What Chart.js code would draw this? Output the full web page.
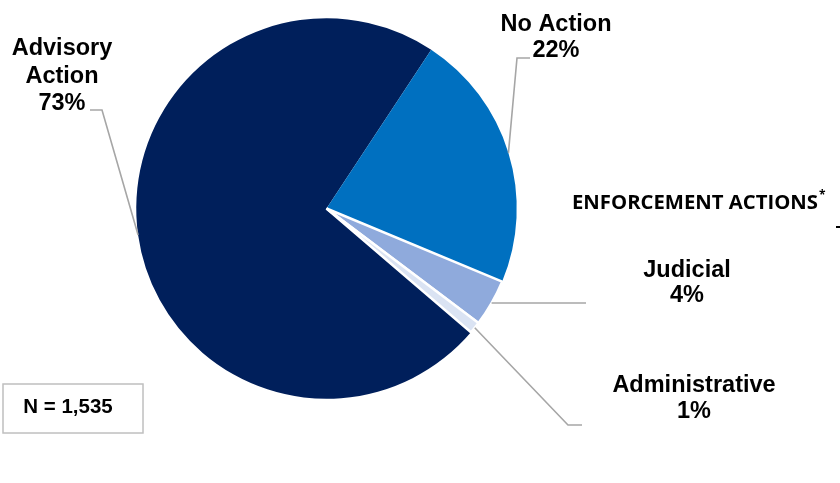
<!DOCTYPE html>
<html>
<head>
<meta charset="utf-8">
<script src="https://cdn.jsdelivr.net/npm/chart.js@4/dist/chart.umd.min.js"></script>
<style>
  html, body { margin: 0; padding: 0; background: #fff; }
  #wrap { width: 840px; height: 483px; }
</style>
</head>
<body>
<div id="wrap"><canvas id="chart_content" width="840" height="483"></canvas></div>
<script>
// data (percent of N = 1,535)
var categories = ["Advisory Action", "No Action", "Judicial", "Administrative"];
var shares = [73, 22, 4, 1];
var sliceColors = ["#001f5b", "#0070c0", "#8faadc", "#dae3f3"];
var totalLabel = "N = 1,535";
var groupTitle = "ENFORCEMENT ACTIONS";

// where each label sits: text lines, centre x, baselines, leader elbow and end
var labelSpots = [
	{ lines: ["Advisory", "Action", "73%"], x: 62, ys: [55, 83, 110], elbow: [102, 110], end: [90, 110] },
	{ lines: ["No Action", "22%"], x: 556, ys: [31, 57], elbow: [517, 58], end: [530, 58] },
	{ lines: ["Judicial", "4%"], x: 687, ys: [277, 302], elbow: null, end: [586, 0] },
	{ lines: ["Administrative", "1%"], x: 694, ys: [392, 418], elbow: [568, 425], end: [582, 425] }
];

var canvasElement = document.getElementById("chart_content");

var labelPlugin = {
	id: "sliceLabels",
	afterDraw: function(chart) {
		var ctx = chart.ctx;
		var arcs = chart.getDatasetMeta(0).data;
		ctx.save();

		// leader lines
		ctx.strokeStyle = "#a6a6a6";
		ctx.lineWidth = 1.6;
		arcs.forEach(function(arc, i) {
			var spot = labelSpots[i];
			var mid = (arc.startAngle + arc.endAngle) / 2;
			var ax = arc.x + Math.cos(mid) * arc.outerRadius;
			var ay = arc.y + Math.sin(mid) * arc.outerRadius;
			ctx.beginPath();
			ctx.moveTo(ax, ay);
			if (spot.elbow) {
				ctx.lineTo(spot.elbow[0], spot.elbow[1]);
				ctx.lineTo(spot.end[0], spot.end[1]);
			} else {
				ctx.lineTo(spot.end[0], ay);
			}
			ctx.stroke();
		});

		// slice labels
		ctx.fillStyle = "#000";
		ctx.textAlign = "center";
		ctx.textBaseline = "alphabetic";
		ctx.font = "bold 23.5px 'Liberation Sans', Arial, sans-serif";
		labelSpots.forEach(function(spot) {
			spot.lines.forEach(function(t, k) {
				ctx.fillText(t, spot.x, spot.ys[k]);
			});
		});

		// group heading, squeezed to the narrow look of the original
		ctx.textAlign = "left";
		ctx.font = "bold 19.5px 'Open Sans', sans-serif";
		var w = ctx.measureText(groupTitle).width;
		ctx.save();
		ctx.translate(572, 209);
		ctx.scale(246 / w, 1);
		ctx.fillText(groupTitle, 0, 0);
		ctx.restore();
		ctx.font = "bold 12px 'Open Sans', sans-serif";
		ctx.fillText("*", 819, 199);
		ctx.fillRect(836, 226, 4, 2);

		// N box
		ctx.strokeStyle = "#bfbfbf";
		ctx.lineWidth = 1.5;
		ctx.strokeRect(3, 384, 140, 49);
		ctx.fillStyle = "#000";
		ctx.textAlign = "center";
		ctx.font = "bold 20.5px 'Liberation Sans', Arial, sans-serif";
		ctx.fillText(totalLabel, 68, 413);

		ctx.restore();
	}
};

function drawChart() {
	var config = {
		type: "pie",
		data: {
			labels: categories,
			datasets: [{
				data: shares,
				backgroundColor: sliceColors,
				borderColor: "#ffffff",
				borderWidth: [0, 0, 2.5, 2.5],
				hoverOffset: 0
			}]
		},
		options: {
			responsive: false,
			animation: false,
			rotation: 130.6,
			layout: {
				padding: { left: 135, right: 322, top: 17, bottom: 83 }
			},
			plugins: {
				legend: { display: false },
				tooltip: { enabled: false }
			}
		},
		plugins: [labelPlugin]
	};

	var content_chart = new Chart(canvasElement, config);
}

window.onload = function() {
	drawChart();
};
</script>
</body>
</html>
